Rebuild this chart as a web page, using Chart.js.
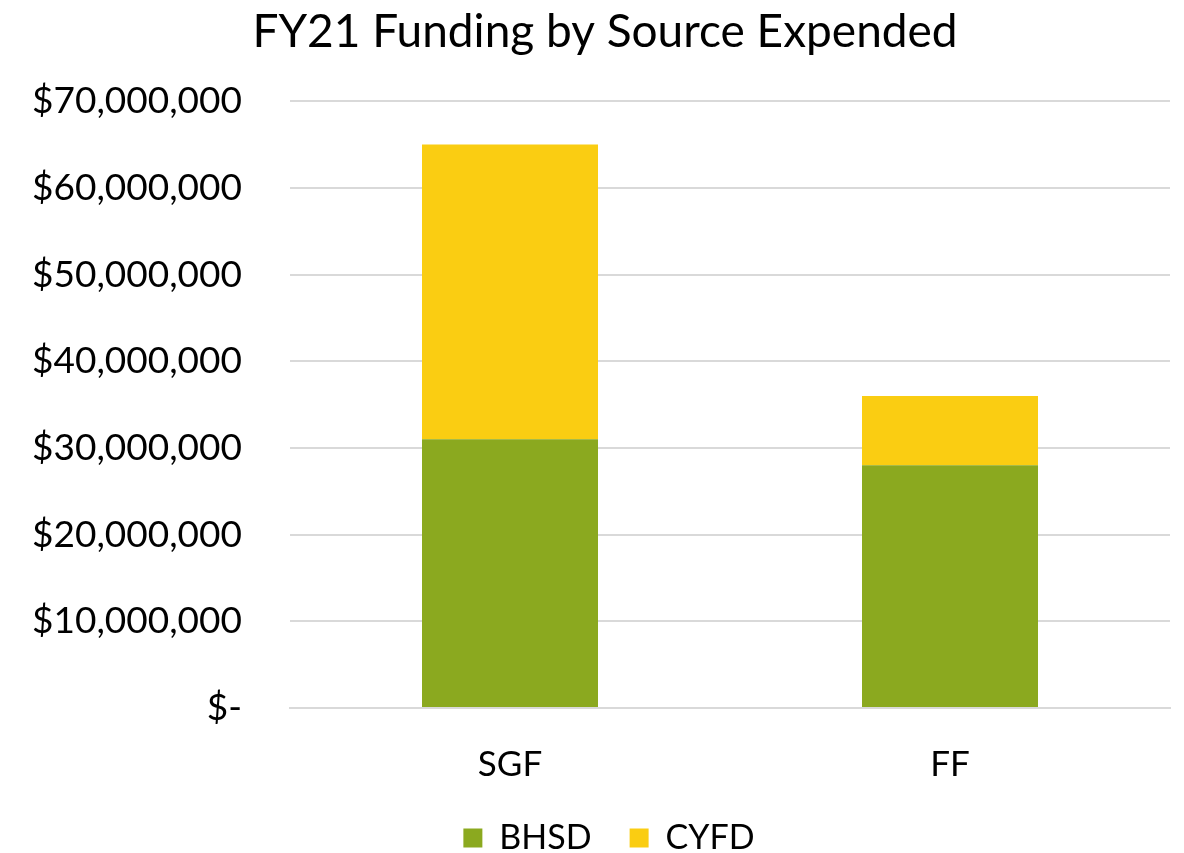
<!DOCTYPE html>
<html>
<head>
<meta charset="utf-8">
<script src="https://cdn.jsdelivr.net/npm/chart.js@4"></script>
<style>
  html, body { margin: 0; padding: 0; background: #fff; }
  #wrap { width: 1184px; height: 853px; }
</style>
</head>
<body>
<div id="wrap"><canvas id="fundingChart" width="1184" height="853"></canvas></div>
<script>
const categories = ['SGF', 'FF'];
const bhsdValues = [31000000, 28000000];
const cyfdValues = [34000000, 8000000];
const yTicks = [0, 10000000, 20000000, 30000000, 40000000, 50000000, 60000000, 70000000];

const fontFamily = 'Lato, "Open Sans", sans-serif';

function fmtMoney(v) {
    if (v === 0) return '$-';
    return '$' + v.toLocaleString('en-US');
}

// fixed legend height so items can sit wider apart; nudge title + legend a bit right
const layoutTweaks = {
    id: 'layoutTweaks',
    beforeLayout(chart) {
        const lg = chart.legend;
        if (lg && !lg._fixed) {
            const origFit = lg.fit.bind(lg);
            lg.fit = function () { origFit(); this.height = 70; };
            lg._fixed = true;
        }
    },
    afterLayout(chart) {
        const t = chart.titleBlock;
        if (t) { t.left += 20; t.right += 20; }
        const lg = chart.legend;
        if (lg) { lg.left += 24; lg.right += 24; }
    }
};

const ctx = document.getElementById('fundingChart').getContext('2d');
new Chart(ctx, {
    type: 'bar',
    data: {
        labels: categories,
        datasets: [
            { label: 'BHSD', data: bhsdValues, backgroundColor: '#8BA91F', borderWidth: 0 },
            { label: 'CYFD', data: cyfdValues, backgroundColor: '#FACD12', borderWidth: 0 }
        ]
    },
    plugins: [layoutTweaks],
    options: {
        responsive: false,
        animation: false,
        layout: { padding: { left: 0, right: 14, top: 2, bottom: 0 } },
        datasets: { bar: { categoryPercentage: 1, barPercentage: 0.4 } },
        plugins: {
            title: {
                display: true,
                text: 'FY21 Funding by Source Expended',
                color: '#000',
                font: { family: fontFamily, size: 46, weight: 'normal' },
                padding: { top: 3, bottom: 41 }
            },
            legend: {
                position: 'bottom',
                labels: {
                    color: '#000',
                    boxWidth: 19,
                    boxHeight: 19,
                    padding: 38,
                    font: { family: fontFamily, size: 34 }
                }
            },
            tooltip: { enabled: false }
        },
        scales: {
            x: {
                stacked: true,
                afterFit: (scale) => { scale.height = 75; },
                grid: { display: false },
                border: { display: true, color: '#D9D9D9', width: 2 },
                ticks: { color: '#000', padding: 28, font: { family: fontFamily, size: 35 } }
            },
            y: {
                stacked: true,
                min: 0,
                max: 70000000,
                afterBuildTicks: (scale) => { scale.ticks = yTicks.map(v => ({ value: v })); },
                afterFit: (scale) => { scale.width = 290; },
                grid: { color: '#D9D9D9', lineWidth: 2, drawTicks: false },
                border: { display: false },
                ticks: {
                    color: '#000',
                    padding: 48,
                    font: { family: fontFamily, size: 37 },
                    callback: (v) => fmtMoney(v)
                }
            }
        }
    }
});
</script>
</body>
</html>
